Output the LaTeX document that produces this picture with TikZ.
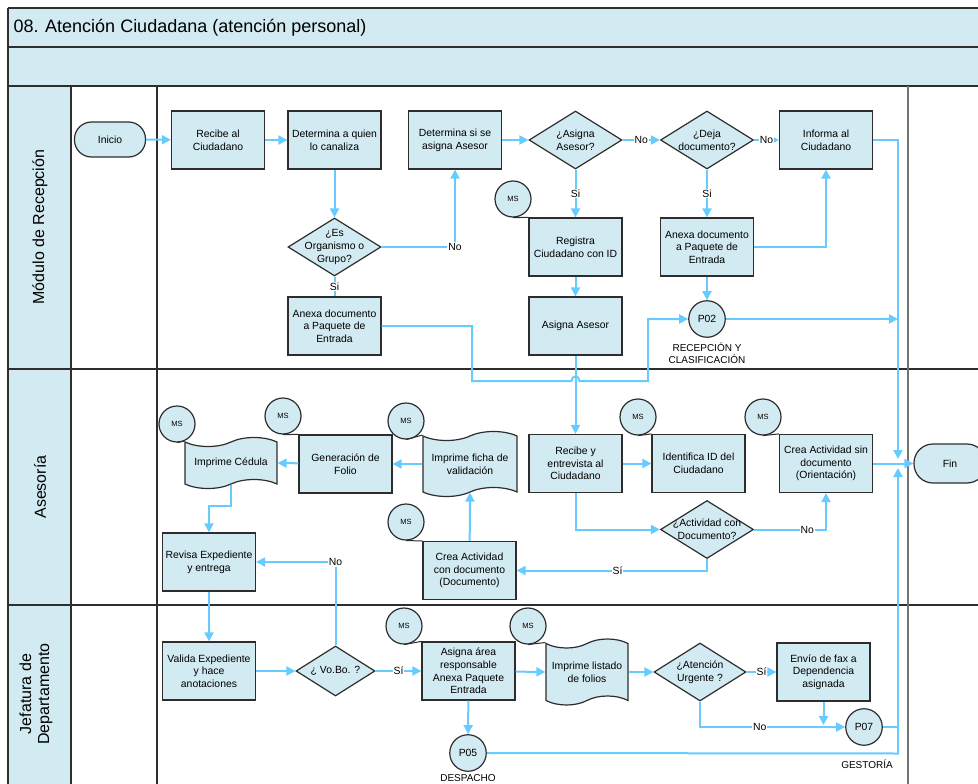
\documentclass[tikz,border=0pt]{standalone}
\usepackage{fontspec}
\setmainfont{Liberation Sans}
\usetikzlibrary{shapes.geometric,shapes.symbols,arrows.meta}
\definecolor{boxfill}{RGB}{210,234,241}
\definecolor{flowc}{RGB}{102,204,255}
\definecolor{edgec}{RGB}{45,45,45}
\begin{document}
\begin{tikzpicture}[x=1pt,y=-1pt,
  every node/.style={font=\fontsize{10.4}{12.7}\selectfont},
  base/.style={draw=edgec,line width=1.2pt,fill=boxfill,align=center,inner sep=0pt},
  proc/.style={base,rectangle,minimum width=93pt,minimum height=58pt},
  decision/.style={base,diamond,minimum width=93pt,minimum height=58pt},
  dlabel/.style={align=center,inner sep=0pt,font=\fontsize{10.4}{12.7}\selectfont},
  terminal/.style={base,rectangle,rounded corners=17pt,minimum width=71pt,minimum height=35pt},
  printout/.style={base,tape,tape bend top=in and out,tape bend bottom=in and out,tape bend height=9pt,minimum width=93pt,minimum height=58pt},
  conn/.style={base,circle,minimum size=36.5pt},
  ms/.style={base,circle,minimum size=36pt,font=\fontsize{7.5}{9}\selectfont},
  flow/.style={draw=flowc,line width=2pt},
  arr/.style={flow,-{Triangle[length=9pt,width=9pt]}},
  lbl/.style={fill=white,inner sep=1pt},
  note/.style={font=\fontsize{10}{12}\selectfont,align=center},
  msline/.style={draw=edgec,line width=1pt},
  lane/.style={draw=black!82,line width=1.5pt},
  lanelabel/.style={font=\fontsize{16}{18}\selectfont,align=center}
]
\useasboundingbox (0,0) rectangle (978,784);

% ---------- swimlane frame ----------
\fill[boxfill] (8,8) rectangle (990,86);
\fill[boxfill] (8,86) rectangle (71,790);
\draw[lane] (8,8) -- (990,8);
\draw[lane] (8,47) -- (990,47);
\draw[lane] (8,86) -- (990,86);
\draw[lane] (8,8) -- (8,790);
\draw[lane] (71,86) -- (71,790);
\draw[lane] (157,86) -- (157,790);
\draw[lane] (8,369) -- (990,369);
\draw[lane] (8,605) -- (990,605);
\draw[draw=black!55,line width=1.5pt] (908,86) -- (908,790);

\node[anchor=west,font=\fontsize{18}{20}\selectfont] (title) at (10,27.5) {08. Atención Ciudadana (atención personal)};
\node[lanelabel,rotate=90] (laneA) at (40,227) {Módulo de Recepción};
\node[lanelabel,rotate=90] (laneB) at (40,487) {Asesoría};
\node[lanelabel,rotate=90] (laneC) at (36,694) {Jefatura de\\Departamento};

% ---------- Módulo de Recepción ----------
\node[terminal] (inicio) at (110,139.5) {Inicio};
\node[proc] (recibe) at (218,140) {Recibe al\\Ciudadano};
\node[proc] (determina) at (334.5,140) {Determina a quien\\lo canaliza};
\node[proc] (detasesor) at (455,140) {Determina si se\\asigna Asesor};
\node[decision,label={[dlabel]center:¿Asigna\\Asesor?}] (qasigna) at (575.5,140) {};
\node[decision,label={[dlabel]center:¿Deja\\documento?}] (qdeja) at (707,140) {};
\node[proc] (informa) at (826,140) {Informa al\\Ciudadano};
\node[decision,label={[dlabel]center:¿Es\\Organismo o\\Grupo?}] (qorg) at (334.5,247) {};
\node[proc] (anexaA) at (334.5,326) {Anexa documento\\a Paquete de\\Entrada};
\node[proc] (registra) at (575.5,247) {Registra\\Ciudadano con ID};
\node[proc] (anexaB) at (707,247) {Anexa documento\\a Paquete de\\Entrada};
\node[proc] (asigna) at (575.5,326) {Asigna Asesor};
\node[conn] (p02) at (707,319) {P02};
\node[note] (p02txt) at (707,353) {RECEPCIÓN Y\\CLASIFICACIÓN};
\node[ms] (msReg) at (513,199) {MS};

% ---------- Asesoría ----------
\node[proc] (recibeE) at (575.5,463.5) {Recibe y\\entrevista al\\Ciudadano};
\node[proc] (identifica) at (698.5,463.5) {Identifica ID del\\Ciudadano};
\node[proc] (creaSin) at (826,463.5) {Crea Actividad sin\\documento\\(Orientación)};
\node[ms] (msId) at (638,417) {MS};
\node[ms] (msSin) at (763,417) {MS};
\node[decision,label={[dlabel]center:¿Actividad con\\Documento?}] (qact) at (707,529.5) {};
\node[proc] (creaCon) at (469.5,570.5) {Crea Actividad\\con documento\\(Documento)};
\node[ms] (msCon) at (406,522) {MS};
\node[printout,minimum width=94pt,minimum height=65pt] (ficha) at (470,464) {Imprime ficha de\\validación};
\node[ms] (msFicha) at (406,421) {MS};
\node[proc] (folio) at (345.5,464) {Generación de\\Folio};
\node[ms] (msFolio) at (283,416) {MS};
\node[printout,minimum width=92pt,minimum height=51pt] (cedula) at (231,463) {Imprime Cédula};
\node[ms] (msCed) at (177,424) {MS};
\node[proc] (revisa) at (209,562) {Revisa Expediente\\y entrega};
\node[terminal,minimum width=72pt,minimum height=39pt,rounded corners=19pt] (fin) at (950,463.5) {Fin};

% ---------- Jefatura de Departamento ----------
\node[proc] (valida) at (209,671) {Valida Expediente\\y hace\\anotaciones};
\node[decision,minimum width=79pt,minimum height=50pt,label={[dlabel]center:¿ Vo.Bo. ?}] (qvobo) at (335.5,671) {};
\node[proc] (asignaArea) at (468.5,671) {Asigna área\\responsable\\Anexa Paquete\\Entrada};
\node[ms] (msArea) at (404,626) {MS};
\node[printout,minimum width=82pt,minimum height=66pt] (listado) at (587,672) {Imprime listado\\de folios};
\node[ms] (msList) at (528,626) {MS};
\node[decision,minimum width=92pt,label={[dlabel]center:¿Atención\\Urgente ?}] (qurg) at (700,672) {};
\node[proc] (envio) at (823.5,672) {Envío de fax a\\Dependencia\\asignada};
\node[conn] (p07) at (864,727) {P07};
\node[conn] (p05) at (468,753) {P05};
\node[note] (p05txt) at (468,778) {DESPACHO};
\node[note] (p07txt) at (867,764) {GESTORÍA};

% ---------- annotation ties ----------
\draw[msline] (msReg.south) -- (registra.north west);
\draw[msline] (msId.south) -- (identifica.north west);
\draw[msline] (msSin.south) -- (creaSin.north west);
\draw[msline] (msCon.south) -- (creaCon.north west);
\draw[msline] (msFicha.south) -- (ficha.north west);
\draw[msline] (msFolio.south) -- (folio.north west);
\draw[msline] (msCed.south) -- (cedula.north west);
\draw[msline] (msArea.south) -- (asignaArea.north west);
\draw[msline] (msList.south) -- (listado.north west);

% ---------- trunk towards Fin ----------
\coordinate (trunkTop) at (898,140);
\coordinate (jTop) at (898,459);
\coordinate (jBot) at (898,468);
\coordinate (p02end) at (898,319);
\coordinate (p07end) at (898,727);
\coordinate (trunkBot) at (898,753.5);

% ---------- flows: Módulo de Recepción ----------
\draw[arr] (inicio) -- (recibe);
\draw[arr] (recibe) -- (determina);
\draw[arr] (determina) -- (qorg);
\draw[arr] (qorg.east) -| node[lbl,pos=0.5]{No} (detasesor.south);
\draw[flow] (qorg.south) -- node[lbl]{Si} (anexaA.north);
\draw[arr] (detasesor) -- (qasigna);
\draw[arr] (qasigna) -- node[lbl]{No} (qdeja);
\draw[arr] (qdeja) -- node[lbl]{No} (informa);
\draw[arr] (qasigna) -- node[lbl]{Si} (registra);
\draw[arr] (qdeja) -- node[lbl]{Si} (anexaB);
\draw[arr] (registra) -- (asigna);
\draw[arr] (anexaB) -- (p02);
\draw[arr] (anexaB.east) -| (informa.south);
\draw[arr] (informa.east) -- (trunkTop) -- (jTop);
\draw[arr] (p02.east) -- (p02end);
\coordinate (hopA) at (472,326);
\coordinate (hopB) at (472,381);
\coordinate (hopC) at (648,381);
\draw[arr] (anexaA.east) -- (hopA) -- (hopB) -- (571.5,381)
  .. controls (571.5,375) and (579.5,375) .. (579.5,381) -- (hopC) |- (p02.west);
\draw[arr] (asigna) -- (recibeE);

% ---------- flows: Asesoría ----------
\draw[arr] (recibeE) -- (identifica);
\draw[arr] (recibeE.south) |- (qact.west);
\draw[arr] (qact.east) -| node[lbl,pos=0.37]{No} (creaSin.south);
\draw[arr] (qact.south) |- node[lbl,pos=0.735]{Sí} (creaCon.east);
\draw[arr] (creaSin) -- (fin);
\draw[arr] (creaCon) -- (ficha.south);
\draw[arr] (ficha.west) -- (folio.east);
\draw[arr] (folio) -- (cedula.east);
\coordinate (cedBend) at (231,506);
\draw[arr] (cedula.south) -- (cedBend) -| (revisa.north);

% ---------- flows: Jefatura de Departamento ----------
\draw[arr] (revisa) -- (valida);
\draw[arr] (valida) -- (qvobo);
\draw[arr] (qvobo.north) |- node[lbl,pos=0.5]{No} (revisa.east);
\draw[arr] (qvobo) -- node[lbl]{Sí} (asignaArea);
\draw[arr] (asignaArea) -- (listado.west);
\draw[arr] (listado.east) -- (qurg);
\draw[arr] (qurg) -- node[lbl]{Sí} (envio);
\coordinate (envioEnd) at (823.5,725);
\draw[arr] (envio) -- (envioEnd);
\draw[arr] (qurg.south) |- node[lbl,pos=0.706]{No} (p07.west);
\draw[flow] (p07.east) -- (p07end);
\draw[arr] (asignaArea) -- (p05);
\draw[arr] (p05.east) -- (trunkBot) -- (jBot);
\end{tikzpicture}
\end{document}
